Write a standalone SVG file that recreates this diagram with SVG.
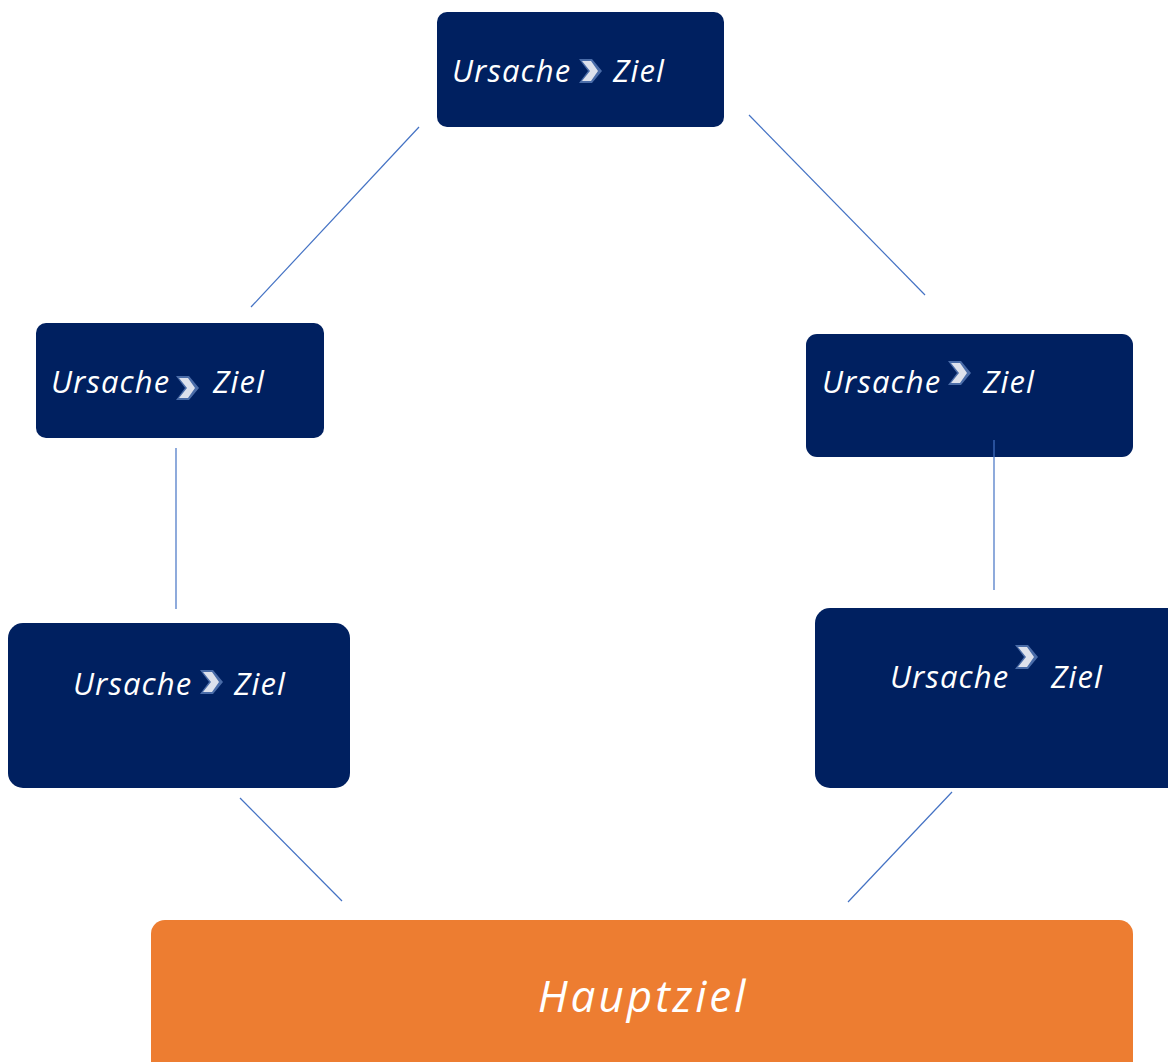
<svg xmlns="http://www.w3.org/2000/svg" width="1168" height="1062" viewBox="0 0 1168 1062">
<defs>
<style>
.node{fill:#002060;}
.main{fill:#ED7D31;}
.t{font-family:"Open Sans","Noto Sans",sans-serif;font-style:italic;font-weight:400;font-size:31px;letter-spacing:1.1px;fill:#ffffff;}
.h{font-family:"Open Sans","Noto Sans",sans-serif;font-style:italic;font-weight:400;font-size:44px;letter-spacing:3px;fill:#ffffff;}
.c line{stroke:#4472C4;stroke-width:1.2;}
.chb{fill:#4A6CA8;}
.chf{fill:#DDE1EC;}
</style>
<g id="chev">
<polygon class="chb" points="0,0 13,0 23,12 13,24 0,24 9,12"/>
<polygon class="chf" points="3,2 12,2 19,12 12,22 3,22 11,12"/>
</g>
</defs>
<rect width="1168" height="1062" fill="#ffffff"/>
<g id="n1">
<rect class="node" x="437" y="12" width="287" height="115" rx="10"/>
<text class="t" x="452" y="82">Ursache</text>
<use href="#chev" x="579" y="59"/>
<text class="t" x="613" y="82">Ziel</text>
</g>
<g id="n2">
<rect class="node" x="36" y="323" width="288" height="115" rx="10"/>
<text class="t" x="51" y="393">Ursache</text>
<use href="#chev" x="176" y="376"/>
<text class="t" x="213" y="393">Ziel</text>
</g>
<g id="n3">
<rect class="node" x="806" y="334" width="327" height="123" rx="11"/>
<text class="t" x="822" y="393">Ursache</text>
<use href="#chev" x="948" y="361"/>
<text class="t" x="983" y="393">Ziel</text>
</g>
<g id="n4">
<rect class="node" x="8" y="623" width="342" height="165" rx="15"/>
<text class="t" x="73" y="695">Ursache</text>
<use href="#chev" x="200" y="670"/>
<text class="t" x="234" y="695">Ziel</text>
</g>
<g id="n5">
<rect class="node" x="815" y="608" width="370" height="180" rx="15"/>
<text class="t" x="890" y="688">Ursache</text>
<use href="#chev" x="1015" y="645"/>
<text class="t" x="1051" y="688">Ziel</text>
</g>
<g id="main">
<rect class="main" x="151" y="920" width="982" height="160" rx="14"/>
<text class="h" x="643" y="1012" text-anchor="middle">Hauptziel</text>
</g>
<g id="connectors" class="c">
<line x1="419" y1="127" x2="251" y2="307"/>
<line x1="749" y1="115" x2="925" y2="295"/>
<line x1="176" y1="448" x2="176" y2="609"/>
<line x1="994" y1="440" x2="994" y2="590"/>
<line x1="240" y1="798" x2="342" y2="901"/>
<line x1="952" y1="792" x2="848" y2="902"/>
</g>
</svg>
